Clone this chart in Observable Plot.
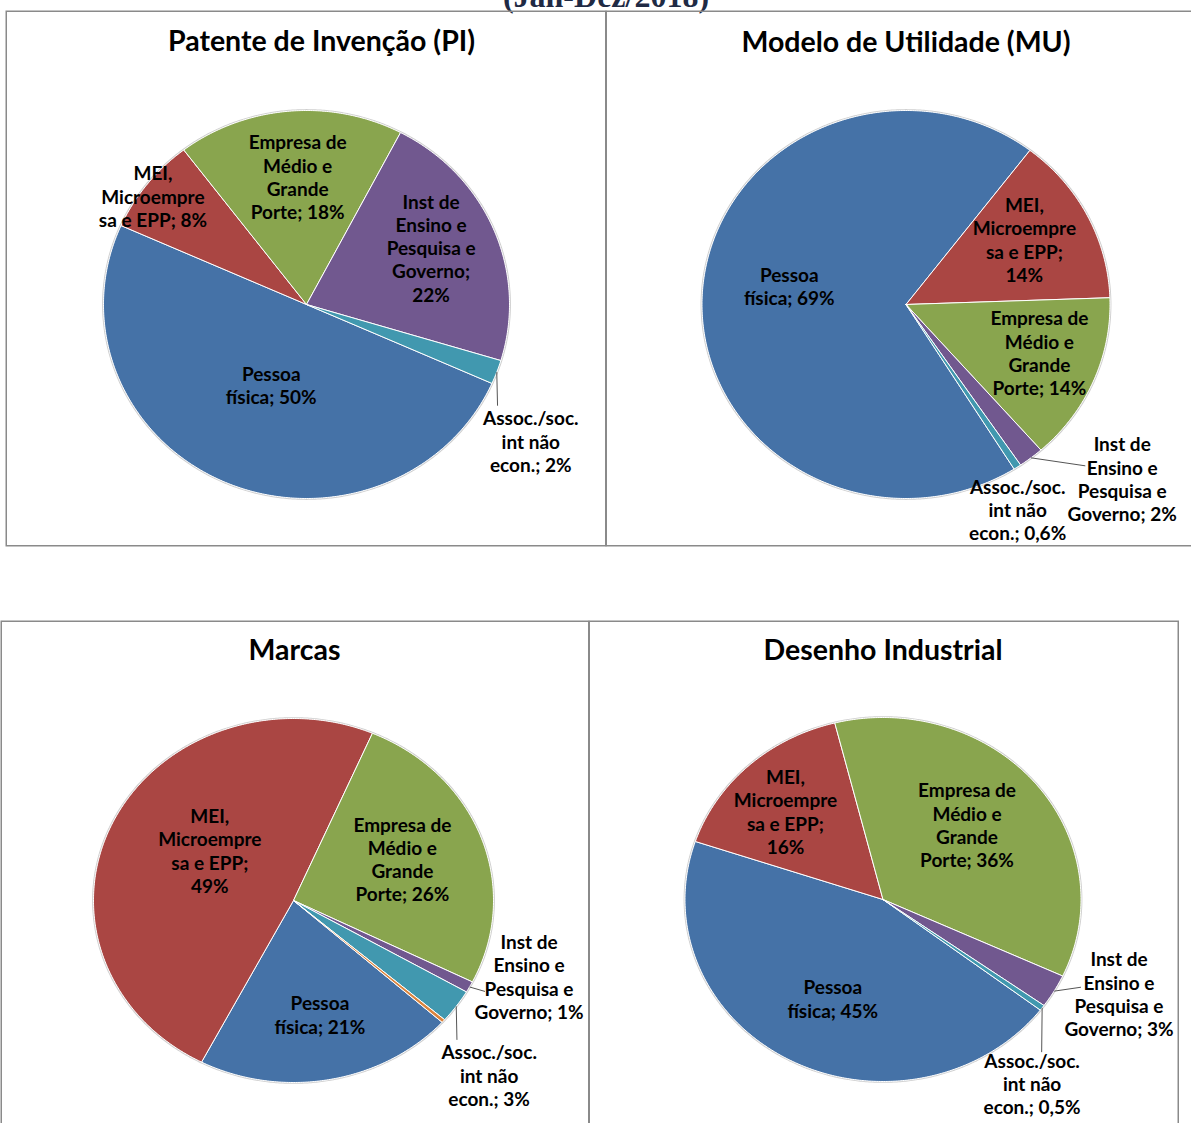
<!DOCTYPE html>
<html><head><meta charset="utf-8">
<script src="https://cdn.jsdelivr.net/npm/d3@7"></script>
<script src="https://cdn.jsdelivr.net/npm/@observablehq/plot@0.6"></script>
<style>
html,body{margin:0;padding:0;background:#fff;overflow:hidden;}
#root{position:relative;width:1191px;height:1123px;overflow:hidden;background:#fff;}
.panel{position:absolute;}
.panel svg{max-width:none !important;}
#sup{position:absolute;left:0;width:1212px;text-align:center;top:-20.5px;font:bold 32px "Liberation Serif",serif;line-height:32px;color:#1f2a44;white-space:nowrap;}
</style></head><body><div id="root"><div id="sup">(Jan-Dez/2018)</div></div>
<script>
// ---- data ----
const categories = ["Pessoa física", "MEI, Microempresa e EPP", "Empresa de Médio e Grande Porte", "Inst de Ensino e Pesquisa e Governo", "Assoc./soc. int não econ.", "Outros"];
const catLines = ["Pessoa\nfísica", "MEI,\nMicroempre\nsa e EPP", "Empresa de\nMédio e\nGrande\nPorte", "Inst de\nEnsino e\nPesquisa e\nGoverno", "Assoc./soc.\nint não\necon.", ""];
const colors = ["#4572A7", "#AA4643", "#89A54E", "#71588F", "#4198AF", "#DB843D"];
const titles = ["Patente de Invenção (PI)", "Modelo de Utilidade (MU)", "Marcas", "Desenho Industrial"];
const supTitle = "(Jan-Dez/2018)";
const piValues = [50, 8, 18, 22, 2, 0];
const muValues = [69, 14, 14, 2, 0.6, 0];
const marcasValues = [21, 49, 26, 1, 3, 0.3];
const diValues = [45, 16, 36, 3, 0.5, 0];

// ---- layout ----
const layouts = [
  {values: piValues, title: titles[0], left: 5, top: 10, width: 601, height: 536, cx: 301, cy: 294, rx: 203, ry: 194, start: 114, tx: 316, ty: 31,
   labels: [[0.45, -1.3], [0.94, -2], [0.66, 1], [0.68, -2.7], [1.31, 12.1]], brk: [false, false, false, true, false], leaders: {4: [1.076, 8.6]}},
  {values: muValues, title: titles[1], left: 604.5, top: 10, width: 620, height: 536, cx: 300.5, cy: 294, rx: 204, ry: 194, start: 148, tx: 300.5, ty: 32,
   labels: [[0.58, 6.7], [0.67, -2.7], [0.70, -2.4], [1.39, -11.9], [1.19, 5.7]], brk: [false, true, false, false, false], leaders: {3: [1.21, -8.8]}},
  {values: marcasValues, title: titles[2], left: 0, top: 620, width: 589, height: 540, cx: 293, cy: 280, rx: 200, ry: 182, start: 132, tx: 294, ty: 30,
   labels: [[0.64, -1.6], [0.5, 7.9], [0.59, -2.6], [1.25, -8.8], [1.37, 8.9], null], brk: [false, true, false, false, false], leaders: {3: [1.08, -0.8], 4: [1.12, 7.6]}},
  {values: diValues, title: titles[3], left: 587.5, top: 620, width: 590.5, height: 540, cx: 294.5, cy: 279, rx: 198, ry: 182, start: 127.4, tx: 294.5, ty: 30,
   labels: [[0.6, -3], [0.69, -2.8], [0.59, -4.4], [1.3, -6.7], [1.26, 16.8]], brk: [false, true, false, false, false], leaders: {3: [1.11, -4.5], 4: [1.16, 9.8]}}
];

const FONT = "Lato, 'Open Sans', sans-serif";
const rad = d => d * Math.PI / 180;
const fmt = v => String(v).replace(".", ",") + "%";
const pt = (a, k) => ({x: k * Math.sin(rad(a)), y: k * Math.cos(rad(a))});

document.getElementById("sup").textContent = supTitle;
const root = document.getElementById("root");

for (const L of layouts) {
  const total = d3.sum(L.values);
  let a = L.start;
  const slicePts = [], labelRows = [], leaderRows = [], rim = [];
  L.values.forEach((v, i) => {
    if (!(v > 0)) return;
    const span = v / total * 360;
    const a0 = a, a1 = a + span, mid = a + span / 2;
    const n = Math.max(2, Math.ceil(span / 0.5) + 1);
    slicePts.push({cat: categories[i], x: 0, y: 0});
    for (let j = 0; j < n; j++) {
      const p = pt(a0 + (a1 - a0) * j / (n - 1), 1);
      slicePts.push({cat: categories[i], ...p});
    }
    slicePts.push({cat: categories[i], x: 0, y: 0});
    const lab = L.labels[i];
    if (lab) {
      const p = pt(mid + lab[1], lab[0]);
      labelRows.push({...p, text: catLines[i] + (L.brk[i] ? ";\n" : "; ") + fmt(v)});
    }
    const ld = L.leaders[i];
    if (ld) {
      const s = pt(mid, 1.0), e = pt(mid + ld[1], ld[0]);
      leaderRows.push({x1: s.x, y1: s.y, x2: e.x, y2: e.y});
    }
    a = a1;
  });
  for (let j = 0; j <= 720; j++) rim.push(pt(j / 2, 1.004));

  const chart = Plot.plot({
    width: L.width, height: L.height, margin: 0,
    style: {background: "transparent", overflow: "visible", maxWidth: "none"},
    x: {domain: [-1, 1], range: [L.cx - L.rx, L.cx + L.rx], axis: null},
    y: {domain: [-1, 1], range: [L.cy + L.ry, L.cy - L.ry], axis: null},
    color: {domain: categories, range: colors},
    marks: [
      Plot.frame({stroke: "#8a8a8a", strokeWidth: 1.5, inset: 0.75}),
      Plot.line(rim, {x: "x", y: "y", stroke: "#cfcfcf", strokeWidth: 1.2}),
      Plot.line(slicePts, {x: "x", y: "y", z: "cat", fill: "cat", stroke: "white", strokeWidth: 1, strokeLinejoin: "round"}),
      Plot.link(leaderRows, {x1: "x1", y1: "y1", x2: "x2", y2: "y2", stroke: "#555", strokeWidth: 1}),
      Plot.text(labelRows, {x: "x", y: "y", text: "text", fontSize: 19, fontWeight: "bold", fontFamily: FONT, fill: "#000", lineHeight: 1.226}),
      Plot.text([L.title], {text: d => d, frameAnchor: "top-left", dx: L.tx, dy: L.ty, fontSize: 28.5, fontWeight: "bold", fontFamily: FONT, fill: "#000", textAnchor: "middle", lineAnchor: "middle"})
    ]
  });
  const wrap = document.createElement("div");
  wrap.className = "panel";
  wrap.style.left = L.left + "px";
  wrap.style.top = L.top + "px";
  wrap.style.width = L.width + "px";
  wrap.style.height = L.height + "px";
  wrap.appendChild(chart);
  root.appendChild(wrap);
}
</script></body></html>
